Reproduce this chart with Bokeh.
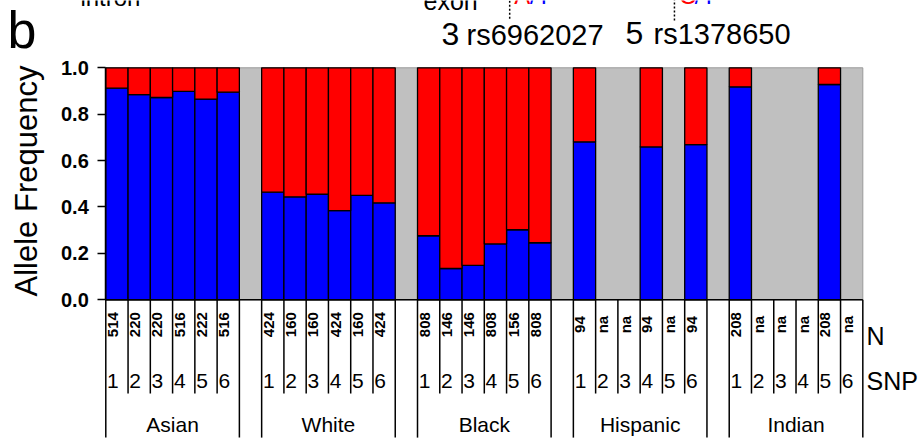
from math import pi
from bokeh.plotting import figure
from bokeh.models import Range1d, FixedTicker, PrintfTickFormatter, Label, ColumnDataSource
from bokeh.core.properties import value
from bokeh.embed import file_html
from bokeh.resources import INLINE

# ---------------- data ----------------
groups = ["Asian", "White", "Black", "Hispanic", "Indian"]
snp_ids = ["1", "2", "3", "4", "5", "6"]

asian_freq = [0.912, 0.884, 0.872, 0.898, 0.865, 0.895]
white_freq = [0.464, 0.444, 0.455, 0.384, 0.450, 0.418]
black_freq = [0.276, 0.135, 0.148, 0.241, 0.302, 0.246]
hispanic_freq = [0.681, None, None, 0.659, None, 0.669]
indian_freq = [0.918, None, None, None, 0.928, None]

asian_n = ["514", "220", "220", "516", "222", "516"]
white_n = ["424", "160", "160", "424", "160", "424"]
black_n = ["808", "146", "146", "808", "156", "808"]
hispanic_n = ["94", "na", "na", "94", "na", "94"]
indian_n = ["208", "na", "na", "na", "208", "na"]

y_ticks = [0.0, 0.2, 0.4, 0.6, 0.8, 1.0]

freqs = [asian_freq, white_freq, black_freq, hispanic_freq, indian_freq]
ns = [asian_n, white_n, black_n, hispanic_n, indian_n]

FONT = "Liberation Sans"
BLUE = "#0000ff"
RED = "#ff0000"
GRAY = "#c0c0c0"

# ---------------- layout constants ----------------
SLOTS_PER_GROUP = 7          # 6 SNPs + 1 gap slot
N_SLOTS = len(groups) * SLOTS_PER_GROUP - 1
Y_N = -0.107
Y_SNP = -0.352
Y_GROUP = -0.537
Y_INNER_END = -0.404
Y_GROUP_END = -0.594

# ---------------- build sources ----------------
bar_x, bar_f = [], []
lab_x, lab_n, lab_s = [], [], []
for gi, g in enumerate(groups):
    for si, s in enumerate(snp_ids):
        xc = gi * SLOTS_PER_GROUP + si + 0.5
        lab_x.append(xc)
        lab_n.append(ns[gi][si])
        lab_s.append(s)
        f = freqs[gi][si]
        if f is not None:
            bar_x.append(xc)
            bar_f.append(f)

bars = ColumnDataSource(dict(x=bar_x, f=bar_f, one=[1.0] * len(bar_x)))
labels = ColumnDataSource(dict(x=lab_x, n=lab_n, s=lab_s))
grp_src = ColumnDataSource(dict(
    x=[gi * SLOTS_PER_GROUP + 3 for gi in range(len(groups))], g=groups))

# table vertical lines
vx, vy1 = [], []
for gi in range(len(groups)):
    start = gi * SLOTS_PER_GROUP
    for b in range(7):
        vx.append(start + b)
        vy1.append(Y_GROUP_END if b in (0, 6) else Y_INNER_END)

p = figure(width=919, height=440, output_backend="svg", toolbar_location=None,
           x_range=Range1d(-4.729, 36.546), y_range=Range1d(-0.6065, 1.2901),
           x_axis_type=None, min_border_left=0, min_border_right=0,
           min_border_top=0, min_border_bottom=0)
p.grid.visible = False
p.outline_line_color = None
p.background_fill_color = "white"
p.border_fill_color = "white"

# gray plot background
p.quad(left=[0], right=[N_SLOTS], bottom=[0], top=[1], fill_color=GRAY,
       line_color="#9a9a9a", line_width=1)

# stacked bars
p.vbar(x="x", width=1, bottom=0, top="f", source=bars, fill_color=BLUE,
       line_color="black", line_width=1.3)
p.vbar(x="x", width=1, bottom="f", top="one", source=bars, fill_color=RED,
       line_color="black", line_width=1.3)

# baseline and table lines
p.segment(x0=[0], y0=[0], x1=[N_SLOTS], y1=[0], line_color="black", line_width=1.5)
p.segment(x0=vx, y0=[0] * len(vx), x1=vx, y1=vy1, line_color="black", line_width=1.5)

# table texts
p.text(x="x", y=Y_N, text="n", source=labels, angle=pi / 2,
       text_font=value(FONT), text_font_size="15px", text_font_style="bold",
       text_align="center", text_baseline="middle", x_offset=-4)
p.text(x="x", y=Y_SNP, text="s", source=labels,
       text_font=value(FONT), text_font_size="21px",
       text_align="center", text_baseline="middle", x_offset=-4)
p.text(x="x", y=Y_GROUP, text="g", source=grp_src,
       text_font=value(FONT), text_font_size="21px",
       text_align="center", text_baseline="middle")
p.text(x=[34.17, 34.17], y=[-0.158, Y_SNP], text=["N", "SNP"],
       text_font=value(FONT), text_font_size="25px",
       text_align="left", text_baseline="middle")

# dotted marker lines at the top
p.segment(x0=[18.14, 25.54], y0=[1.211, 1.204], x1=[18.14, 25.54], y1=[1.30, 1.30],
          line_color="black", line_width=1.5, line_dash="2 2")

# y axis, fixed at the left edge of the bars
ax = p.yaxis[0]
ax.fixed_location = 0
ax.bounds = (0, 1)
ax.ticker = FixedTicker(ticks=y_ticks)
ax.formatter = PrintfTickFormatter(format="%.1f")
ax.axis_line_color = "black"
ax.axis_line_width = 1.5
ax.major_tick_out = 8
ax.major_tick_in = 0
ax.minor_tick_out = 0
ax.minor_tick_in = 0
ax.major_tick_line_width = 1.5
ax.major_label_standoff = 9
ax.major_label_text_font = FONT
ax.major_label_text_font_size = "20px"
ax.major_label_text_font_style = "bold"
ax.major_label_text_color = "black"


def lab(x, y, text, size, color="black", **kw):
    kw.setdefault("text_baseline", "alphabetic")
    p.add_layout(Label(x=x, y=y, text=text, text_font=FONT, text_font_size=size,
                       text_color=color, **kw))


# annotation texts (data units of the chart's scales)
lab(-3.58, 0.512, "Allele Frequency", "31px", angle=pi / 2,
    text_align="center", text_baseline="middle")
lab(-4.42, 1.165, "b", "52px")
lab(15.08, 1.146, "3", "32px")
lab(16.20, 1.142, "rs6962027", "29px")
lab(23.34, 1.148, "5", "32px")
lab(24.60, 1.144, "rs1378650", "29px")
lab(-1.14, 1.304, "intron", "24px")
lab(14.27, 1.288, "exon", "25px")
lab(18.35, 1.313, "A", "24px", color=RED)
lab(19.05, 1.313, "/T", "24px", color=BLUE)
lab(25.75, 1.313, "C", "24px", color=RED)
lab(26.45, 1.313, "/T", "24px", color=BLUE)

open("out.html", "w").write(file_html(p, INLINE))
